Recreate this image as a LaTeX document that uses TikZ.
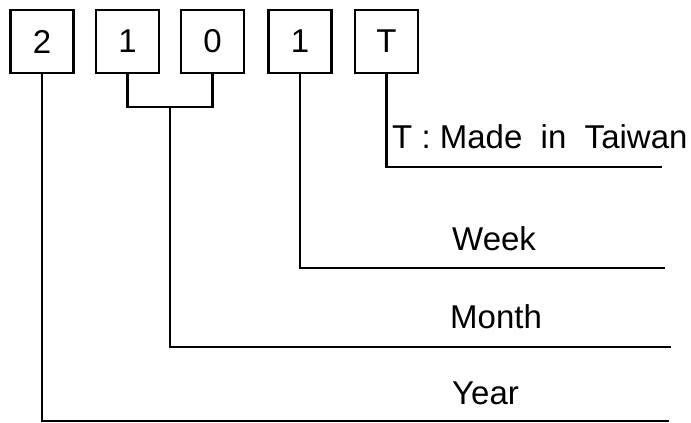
\documentclass[tikz,border=0pt]{standalone}
\usepackage{fontspec}
\setmainfont{Liberation Sans}
\begin{document}
\begin{tikzpicture}[x=1pt,y=-1pt,
  digit/.style={draw,line width=2.3pt,minimum width=63pt,minimum height=63pt,inner sep=0pt,font=\fontsize{33}{36}\selectfont},
  lbl/.style={inner sep=0pt,anchor=base west,font=\fontsize{33}{36}\selectfont},
  conn/.style={line width=2.3pt}]
\useasboundingbox (0,0) rectangle (691,423);
\node[digit] (b1) at (42,41.5) {2};
\node[digit] (b2) at (127.5,41.5) {1};
\node[digit] (b3) at (212.5,41.5) {0};
\node[digit] (b4) at (300,41.5) {1};
\node[digit] (b5) at (386.5,41.5) {T};
% year
\coordinate (y1) at (42,421);
\coordinate (y2) at (669,421);
\draw[conn] (b1.south) -- (y1) -- (y2);
% month
\coordinate (m0) at (170,107);
\coordinate (m1) at (170,347);
\coordinate (m2) at (671,347);
\draw[conn] (b2.south) |- (m0) -| (b3.south);
\draw[conn] (m0) -- (m1) -- (m2);
% week
\coordinate (w1) at (300,268);
\coordinate (w2) at (665,268);
\draw[conn] (b4.south) -- (w1) -- (w2);
% taiwan
\coordinate (t1) at (386.5,167);
\coordinate (t2) at (662,167);
\draw[conn] (b5.south) -- (t1) -- (t2);
\node[lbl] (lt) at (392,148) {T : Made\ \ in\ \ Taiwan};
\node[lbl] (lw) at (452,250) {Week};
\node[lbl] (lm) at (450,328) {Month};
\node[lbl] (ly) at (452,404) {Year};
\end{tikzpicture}
\end{document}
